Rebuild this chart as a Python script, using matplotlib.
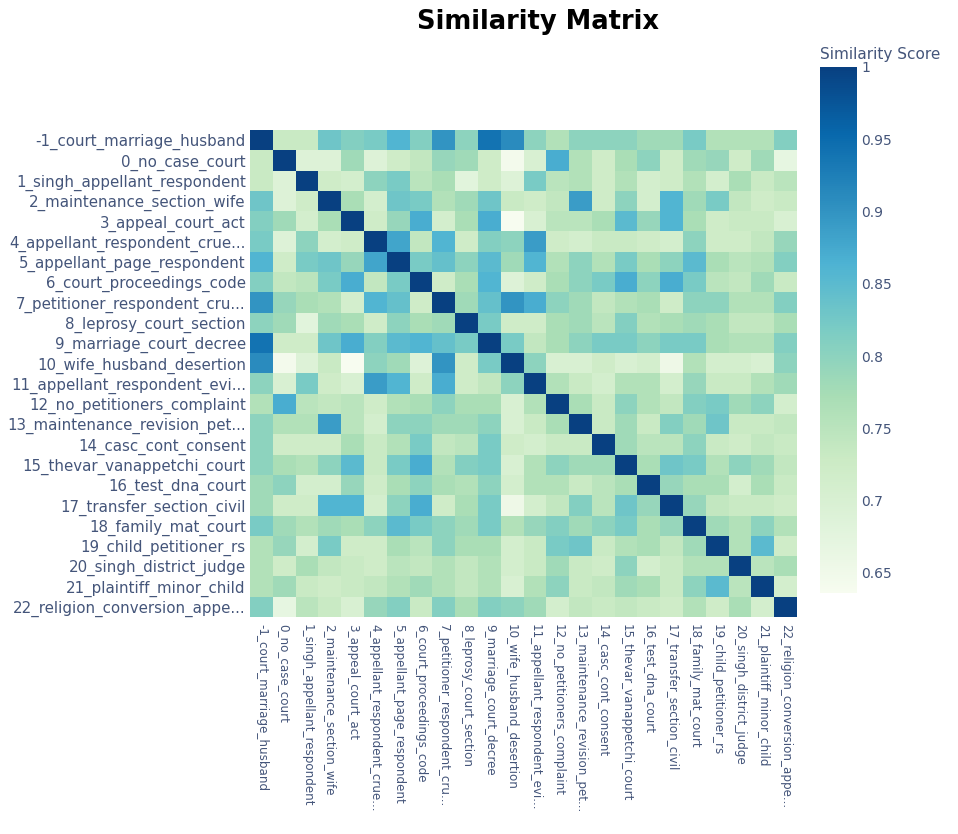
import numpy as np
import matplotlib
matplotlib.use("Agg")
import matplotlib.pyplot as plt

labels = [
    "-1_court_marriage_husband", "0_no_case_court", "1_singh_appellant_respondent",
    "2_maintenance_section_wife", "3_appeal_court_act", "4_appellant_respondent_crue...",
    "5_appellant_page_respondent", "6_court_proceedings_code", "7_petitioner_respondent_cru...",
    "8_leprosy_court_section", "9_marriage_court_decree", "10_wife_husband_desertion",
    "11_appellant_respondent_evi...", "12_no_petitioners_complaint", "13_maintenance_revision_pet...",
    "14_casc_cont_consent", "15_thevar_vanappetchi_court", "16_test_dna_court",
    "17_transfer_section_civil", "18_family_mat_court", "19_child_petitioner_rs",
    "20_singh_district_judge", "21_plaintiff_minor_child", "22_religion_conversion_appe...",
]

# lower-triangle similarity values (row i, columns 0..i-1)
lower = [
    [],
    [0.73],
    [0.73, 0.69],
    [0.83, 0.69, 0.72],
    [0.81, 0.78, 0.71, 0.77],
    [0.82, 0.69, 0.80, 0.71, 0.72],
    [0.86, 0.72, 0.82, 0.83, 0.79, 0.88],
    [0.81, 0.74, 0.75, 0.82, 0.87, 0.74, 0.82],
    [0.90, 0.79, 0.77, 0.76, 0.71, 0.86, 0.84, 0.72],
    [0.80, 0.78, 0.68, 0.78, 0.77, 0.72, 0.80, 0.77, 0.78],
    [0.94, 0.72, 0.72, 0.83, 0.87, 0.81, 0.85, 0.86, 0.84, 0.82],
    [0.91, 0.645, 0.69, 0.73, 0.636, 0.80, 0.78, 0.69, 0.90, 0.72, 0.82],
    [0.80, 0.70, 0.82, 0.72, 0.70, 0.89, 0.86, 0.72, 0.87, 0.72, 0.74, 0.80],
    [0.76, 0.87, 0.75, 0.74, 0.75, 0.72, 0.76, 0.77, 0.80, 0.77, 0.77, 0.70, 0.76],
    [0.80, 0.76, 0.76, 0.89, 0.75, 0.71, 0.80, 0.80, 0.78, 0.78, 0.80, 0.70, 0.73, 0.77],
    [0.80, 0.72, 0.72, 0.72, 0.77, 0.73, 0.76, 0.82, 0.74, 0.75, 0.82, 0.72, 0.71, 0.73, 0.73],
    [0.80, 0.77, 0.76, 0.80, 0.85, 0.73, 0.82, 0.87, 0.76, 0.81, 0.82, 0.70, 0.76, 0.80, 0.78, 0.78],
    [0.78, 0.80, 0.71, 0.71, 0.79, 0.72, 0.77, 0.80, 0.77, 0.76, 0.80, 0.71, 0.76, 0.76, 0.73, 0.75, 0.77],
    [0.78, 0.72, 0.72, 0.86, 0.86, 0.71, 0.80, 0.87, 0.72, 0.77, 0.82, 0.655, 0.71, 0.74, 0.81, 0.75, 0.83, 0.79],
    [0.82, 0.78, 0.76, 0.78, 0.77, 0.80, 0.85, 0.82, 0.80, 0.78, 0.82, 0.76, 0.79, 0.81, 0.78, 0.80, 0.82, 0.77, 0.79],
    [0.76, 0.79, 0.71, 0.82, 0.72, 0.72, 0.77, 0.75, 0.80, 0.77, 0.77, 0.71, 0.73, 0.82, 0.83, 0.73, 0.76, 0.77, 0.74, 0.78],
    [0.76, 0.72, 0.77, 0.74, 0.73, 0.72, 0.75, 0.74, 0.76, 0.74, 0.76, 0.71, 0.73, 0.78, 0.73, 0.72, 0.80, 0.71, 0.73, 0.76, 0.76],
    [0.76, 0.78, 0.73, 0.72, 0.73, 0.74, 0.76, 0.78, 0.76, 0.74, 0.76, 0.70, 0.76, 0.80, 0.73, 0.74, 0.78, 0.77, 0.73, 0.80, 0.85, 0.75],
    [0.81, 0.67, 0.75, 0.73, 0.70, 0.79, 0.81, 0.73, 0.81, 0.77, 0.81, 0.80, 0.78, 0.71, 0.74, 0.73, 0.74, 0.73, 0.72, 0.76, 0.72, 0.77, 0.71],
]

cbar_ticks = [0.65, 0.7, 0.75, 0.8, 0.85, 0.9, 0.95, 1]
cbar_ticklabels = ["0.65", "0.7", "0.75", "0.8", "0.85", "0.9", "0.95", "1"]

n = len(labels)
M = np.eye(n)
for i, row in enumerate(lower):
    for j, v in enumerate(row):
        M[i, j] = v
        M[j, i] = v

txt_color = "#44557a"
fig = plt.figure(figsize=(9.58, 8.34), dpi=100)
ax = fig.add_axes([250 / 958, 1 - 617 / 834, 547 / 958, 487 / 834])
mesh = ax.pcolormesh(np.arange(n + 1), np.arange(n + 1), M, cmap="GnBu",
                     vmin=M.min(), vmax=1.0, shading="flat")
ax.set_xlim(0, n)
ax.set_ylim(n, 0)
ax.set_xticks(np.arange(n) + 0.5)
ax.set_yticks(np.arange(n) + 0.5)
ax.set_xticklabels(labels, rotation=-90, fontsize=8.6, color=txt_color)
ax.set_yticklabels(labels, fontsize=10.8, color=txt_color)
ax.tick_params(axis="x", length=0, pad=5)
ax.tick_params(axis="y", length=0, pad=3)
for s in ax.spines.values():
    s.set_visible(False)

cax = fig.add_axes([820 / 958, 1 - 593 / 834, 37 / 958, 526 / 834])
cb = fig.colorbar(mesh, cax=cax)
cb.set_ticks(cbar_ticks)
cb.set_ticklabels(cbar_ticklabels)
cb.outline.set_visible(False)
cax.tick_params(length=0, labelsize=10, labelcolor=txt_color, pad=3)
fig.text(820 / 958, 1 - 62 / 834, "Similarity Score", fontsize=11, color=txt_color,
         ha="left", va="bottom")

fig.text(538 / 958, 1 - 22 / 834, "Similarity Matrix", fontsize=18.5, fontweight="bold",
         ha="center", va="center", color="black")

fig.savefig("out.png", dpi=100, facecolor="white")
